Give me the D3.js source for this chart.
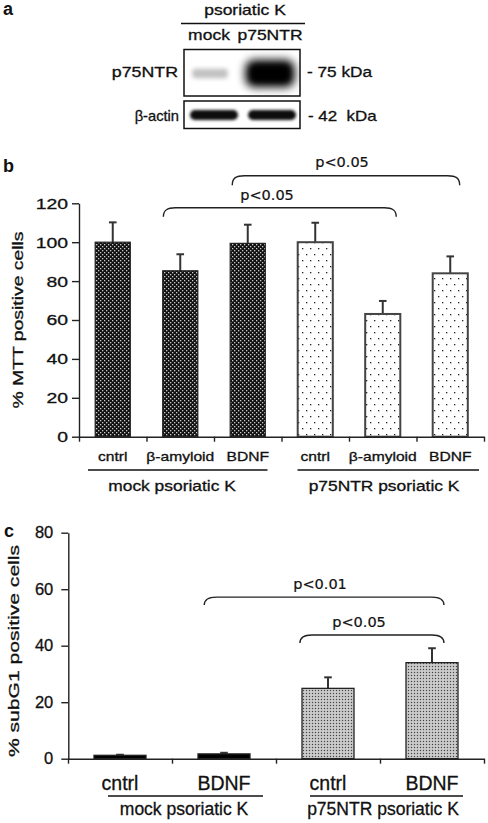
<!DOCTYPE html>
<html><head><meta charset="utf-8">
<script src="https://cdn.jsdelivr.net/npm/d3@7"></script>
<style>body{margin:0;background:#fff} svg{display:block}</style>
</head><body><svg id="fig" width="488" height="823"></svg>
<script>
// ---------- Panel a (western blot) ----------
const blotLanes = ["mock", "p75NTR"];
const p75Intensity = [0.15, 1.0];
const actinIntensity = [1.0, 1.0];
const blotRows = ["p75NTR", "β-actin"];
const blotSizes = ["- 75 kDa", "- 42  kDa"];
// ---------- Panel b (MTT) ----------
const mttCategories = ["cntrl", "β-amyloid", "BDNF", "cntrl", "β-amyloid", "BDNF"];
const mttGroups = ["mock", "mock", "mock", "p75NTR", "p75NTR", "p75NTR"];
const mttValues = [100, 85.3, 99.4, 100, 63.1, 84.0];
const mttErrors = [10.2, 8.5, 9.6, 10.0, 6.7, 8.7];
const mttTicks = [0, 20, 40, 60, 80, 100, 120];
// ---------- Panel c (subG1) ----------
const subG1Categories = ["cntrl", "BDNF", "cntrl", "BDNF"];
const subG1Groups = ["mock", "mock", "p75NTR", "p75NTR"];
const subG1Values = [1.2, 1.7, 24.9, 34.0];
const subG1Errors = [0.2, 0.4, 3.9, 5.1];
const subG1Ticks = [0, 20, 40, 60, 80];
const groupLabels = ["mock psoriatic K", "p75NTR psoriatic K"];

const FONT = "'Liberation Sans', Arial, Helvetica, sans-serif";
const PFONT = "'DejaVu Sans', Verdana, sans-serif";
const svg = d3.select("#fig");
svg.append("rect").attr("width", 488).attr("height", 823).attr("fill", "#fff");

function txt(g, s, x, y, o = {}) {
  const sx = o.sx || 1, rot = o.rot || 0;
  return g.append("text")
    .attr("transform", `translate(${x},${y}) rotate(${rot}) scale(${sx},1)`)
    .attr("text-anchor", o.anchor || "middle")
    .attr("font-size", o.size || 14)
    .attr("font-family", o.family || FONT)
    .attr("font-weight", o.weight || "normal")
    .attr("fill", o.fill || "#111")
    .attr("stroke", o.weight === "bold" ? "none" : "#111")
    .attr("stroke-width", o.sw != null ? o.sw : 0.3)
    .style("white-space", "pre")
    .text(s);
}
function bracket(g, x1, x2, yTop, drop, r) {
  const p = d3.path();
  p.moveTo(x1, yTop + drop);
  p.bezierCurveTo(x1, yTop + 2, x1 + r * 0.35, yTop, x1 + r, yTop);
  p.lineTo(x2 - r, yTop);
  p.bezierCurveTo(x2 - r * 0.35, yTop, x2, yTop + 2, x2, yTop + drop);
  g.append("path").attr("d", p.toString()).attr("fill", "none")
    .attr("stroke", "#222").attr("stroke-width", 1.4);
}

// ---------- defs ----------
const defs = svg.append("defs");
function blur(id, sd) {
  defs.append("filter").attr("id", id).attr("x", "-50%").attr("y", "-50%")
    .attr("width", "200%").attr("height", "200%")
    .append("feGaussianBlur").attr("stdDeviation", sd);
}
blur("blurBig", 4.2); blur("blurMid", 2.6); blur("blurSmall", 1.6); blur("blurFaint", 2.2);

const pDark = defs.append("pattern").attr("id", "pDark").attr("patternUnits", "userSpaceOnUse")
  .attr("width", 4).attr("height", 4);
pDark.append("rect").attr("width", 4).attr("height", 4).attr("fill", "#111");
pDark.append("rect").attr("x", 0).attr("y", 0).attr("width", 1.3).attr("height", 1.3).attr("fill", "#ccc");
pDark.append("rect").attr("x", 2).attr("y", 2).attr("width", 1.3).attr("height", 1.3).attr("fill", "#ccc");

const pLight = defs.append("pattern").attr("id", "pLight").attr("patternUnits", "userSpaceOnUse")
  .attr("width", 8).attr("height", 12);
pLight.append("rect").attr("width", 8).attr("height", 12).attr("fill", "#fff");
pLight.append("rect").attr("x", 2).attr("y", 2).attr("width", 1.3).attr("height", 1.3).attr("fill", "#222");
pLight.append("rect").attr("x", 6).attr("y", 8).attr("width", 1.3).attr("height", 1.3).attr("fill", "#222");

const pGray = defs.append("pattern").attr("id", "pGray").attr("patternUnits", "userSpaceOnUse")
  .attr("width", 3).attr("height", 3);
pGray.append("rect").attr("width", 3).attr("height", 3).attr("fill", "#bdbdbd");
pGray.append("rect").attr("x", 0).attr("y", 0).attr("width", 1).attr("height", 1).attr("fill", "#444");
pGray.append("rect").attr("x", 1.5).attr("y", 1.5).attr("width", 1).attr("height", 1).attr("fill", "#f4f4f4");

// ================= Panel a =================
const ga = svg.append("g");
txt(ga, "a", 3, 15, { anchor: "start", size: 18, weight: "bold" });
const lane = d3.scaleBand().domain(blotLanes).range([184, 300]);
txt(ga, "psoriatic K", 245, 15, { size: 14, sx: 1.25 });
ga.append("line").attr("x1", 181).attr("x2", 305).attr("y1", 23.5).attr("y2", 23.5)
  .attr("stroke", "#111").attr("stroke-width", 1.4);
blotLanes.forEach((l, i) => txt(ga, l, lane(l) + lane.bandwidth() / 2 - (i === 0 ? 4 : 1), 40, { size: 14, sx: 1.25 }));

const boxes = [{ y: 49.5, h: 46.5 }, { y: 101, h: 27.5 }];
defs.append("clipPath").attr("id", "clipB0").append("rect").attr("x", 184).attr("y", boxes[0].y).attr("width", 116).attr("height", boxes[0].h);
defs.append("clipPath").attr("id", "clipB1").append("rect").attr("x", 184).attr("y", boxes[1].y).attr("width", 116).attr("height", boxes[1].h);

const wS = d3.scaleLinear().domain([0, 1]).range([33, 50]);
const hS = d3.scaleLinear().domain([0, 1]).range([6, 28]);
const oS = d3.scaleLinear().domain([0, 1]).range([0.12, 0.95]);
const gb0 = ga.append("g").attr("clip-path", "url(#clipB0)");
blotLanes.forEach((l, i) => {
  const v = p75Intensity[i];
  const cx = lane(l) + lane.bandwidth() / 2 - (i === 0 ? 3 : 1);
  const w = wS(v), h = hS(v);
  gb0.append("rect").attr("x", cx - w / 2).attr("y", 73.5 - h / 2).attr("width", w).attr("height", h)
    .attr("rx", h / 3).attr("fill", "#000").attr("fill-opacity", oS(v))
    .attr("filter", v > 0.5 ? "url(#blurBig)" : "url(#blurFaint)");
  if (v > 0.5) {
    gb0.append("rect").attr("x", cx - w / 2 + 6).attr("y", 73.5 - h / 2 + 6).attr("width", w - 12).attr("height", h - 12)
      .attr("rx", 5).attr("fill", "#000").attr("filter", "url(#blurMid)");
  }
});
const gb1 = ga.append("g").attr("clip-path", "url(#clipB1)");
blotLanes.forEach((l, i) => {
  const v = actinIntensity[i];
  const cx = lane(l) + lane.bandwidth() / 2 + (i === 0 ? 1 : 1);
  gb1.append("rect").attr("x", cx - 24).attr("y", 110).attr("width", 48).attr("height", 10)
    .attr("rx", 5).attr("fill", "#000").attr("fill-opacity", oS(v)).attr("filter", "url(#blurSmall)");
});
boxes.forEach(b => ga.append("rect").attr("x", 184).attr("y", b.y).attr("width", 116).attr("height", b.h)
  .attr("fill", "none").attr("stroke", "#111").attr("stroke-width", 1.5));
txt(ga, blotRows[0], 178, 77, { anchor: "end", size: 14, sx: 1.27 });
txt(ga, blotRows[1], 179, 121, { anchor: "end", size: 14, sx: 1.05 });
txt(ga, blotSizes[0], 307, 77, { anchor: "start", size: 14, sx: 1.23 });
txt(ga, blotSizes[1], 308, 121, { anchor: "start", size: 14, sx: 1.21 });

// ================= Panel b =================
const gbp = svg.append("g");
txt(gbp, "b", 3, 172, { anchor: "start", size: 18, weight: "bold" });
const xb = d3.scaleBand().domain(d3.range(mttValues.length)).range([79, 484]);
const xbL = d3.scaleLinear().domain([0, mttValues.length]).range([79, 484]);
const yb = d3.scaleLinear().domain([0, 120]).range([436.7, 203.3]);
const bwb = xb.bandwidth() * 0.52;

mttValues.forEach((v, i) => {
  const x0 = xb(i) + (xb.bandwidth() - bwb) / 2, xc = xb(i) + xb.bandwidth() / 2;
  gbp.append("line").attr("x1", xc).attr("x2", xc).attr("y1", yb(v)).attr("y2", yb(v + mttErrors[i]))
    .attr("stroke", "#333").attr("stroke-width", 2);
  gbp.append("line").attr("x1", xc - 3.8).attr("x2", xc + 3.8).attr("y1", yb(v + mttErrors[i])).attr("y2", yb(v + mttErrors[i]))
    .attr("stroke", "#333").attr("stroke-width", 2);
  gbp.append("rect").attr("x", x0).attr("y", yb(v)).attr("width", bwb).attr("height", yb(0) - yb(v))
    .attr("fill", mttGroups[i] === "mock" ? "url(#pDark)" : "url(#pLight)")
    .attr("stroke", mttGroups[i] === "mock" ? "#222" : "#444").attr("stroke-width", mttGroups[i] === "mock" ? 1.2 : 2);
});

const yAxB = gbp.append("g").attr("transform", "translate(79,0)")
  .call(d3.axisLeft(yb).tickValues(mttTicks).tickSize(7).tickPadding(4).tickSizeOuter(0));
yAxB.selectAll("text").attr("x", -11 / 1.25).attr("transform", "scale(1.25,1)")
  .attr("font-size", 15.5).attr("font-family", FONT).attr("fill", "#111")
  .attr("stroke", "#111").attr("stroke-width", 0.3);
const xAxB = gbp.append("g").attr("transform", `translate(0,${yb(0)})`)
  .call(d3.axisBottom(xbL).tickValues(d3.range(mttValues.length + 1)).tickFormat("").tickSize(5).tickSizeOuter(0));
[yAxB, xAxB].forEach(a => { a.selectAll("path,line").attr("stroke", "#222").attr("stroke-width", 1.4); });

mttCategories.forEach((c, i) => txt(gbp, c, xb(i) + xb.bandwidth() / 2, 461, { size: 12.5, sx: 1.25 }));
const bwB = xb.bandwidth();
gbp.append("line").attr("x1", xb(0) + 9).attr("x2", xb(2) + bwB - 14).attr("y1", 470).attr("y2", 470).attr("stroke", "#111").attr("stroke-width", 1.4);
gbp.append("line").attr("x1", xb(3) + 16).attr("x2", xb(5) + bwB - 5).attr("y1", 470).attr("y2", 470).attr("stroke", "#111").attr("stroke-width", 1.4);
txt(gbp, groupLabels[0], 172, 491, { size: 14.5, sx: 1.2 });
txt(gbp, groupLabels[1], 384, 491, { size: 14.5, sx: 1.2 });
txt(gbp, "% MTT positive cells", 23, 320, { size: 15, sx: 1.29, rot: -90 });

bracket(gbp, xb(1) + bwB * 0.25, xb(4) + bwB * 0.7, yb(117.7), 9, 12);
bracket(gbp, xb(2) + bwB * 0.27, xb(5) + bwB * 0.64, yb(134.2), 9.5, 12);
txt(gbp, "p<0.05", 267, 200, { size: 14.5, family: PFONT, sw: 0.2 });
txt(gbp, "p<0.05", 342, 167, { size: 14.5, family: PFONT, sw: 0.2 });

// ================= Panel c =================
const gc = svg.append("g");
txt(gc, "c", 4, 537, { anchor: "start", size: 18, weight: "bold" });
const xc = d3.scaleBand().domain(d3.range(subG1Values.length)).range([68, 484]);
const xcL = d3.scaleLinear().domain([0, subG1Values.length]).range([68, 484]);
const yc = d3.scaleLinear().domain([0, 80]).range([758.7, 532.7]);
const bwc = xc.bandwidth() * 0.5;
subG1Values.forEach((v, i) => {
  const x0 = xc(i) + (xc.bandwidth() - bwc) / 2, xm = xc(i) + xc.bandwidth() / 2;
  gc.append("line").attr("x1", xm).attr("x2", xm).attr("y1", yc(v)).attr("y2", yc(v + subG1Errors[i]))
    .attr("stroke", "#333").attr("stroke-width", 2);
  gc.append("line").attr("x1", xm - 3.8).attr("x2", xm + 3.8).attr("y1", yc(v + subG1Errors[i])).attr("y2", yc(v + subG1Errors[i]))
    .attr("stroke", "#333").attr("stroke-width", 2);
  gc.append("rect").attr("x", x0).attr("y", yc(v)).attr("width", bwc).attr("height", yc(0) - yc(v))
    .attr("fill", subG1Groups[i] === "mock" ? "#000" : "url(#pGray)")
    .attr("stroke", "#222").attr("stroke-width", 1.3);
});
const yAxC = gc.append("g").attr("transform", "translate(68.3,0)")
  .call(d3.axisLeft(yc).tickValues(subG1Ticks).tickSize(7).tickPadding(8).tickSizeOuter(0));
yAxC.selectAll("text").attr("font-size", 16.5).attr("font-family", FONT).attr("fill", "#111")
  .attr("stroke", "#111").attr("stroke-width", 0.3);
const xAxC = gc.append("g").attr("transform", `translate(0,${yc(0)})`)
  .call(d3.axisBottom(xcL).tickValues(d3.range(subG1Values.length + 1)).tickFormat("").tickSize(5).tickSizeOuter(0));
[yAxC, xAxC].forEach(a => { a.selectAll("path,line").attr("stroke", "#222").attr("stroke-width", 1.4); });
subG1Categories.forEach((c, i) => txt(gc, c, xc(i) + xc.bandwidth() / 2, 790, { size: 19.5 }));
const bwC = xc.bandwidth();
gc.append("line").attr("x1", xc(0) + 40).attr("x2", xc(1) + bwC - 13).attr("y1", 796).attr("y2", 796).attr("stroke", "#111").attr("stroke-width", 1.4);
gc.append("line").attr("x1", xc(2) + 34).attr("x2", xc(3) + bwC - 21).attr("y1", 796).attr("y2", 796).attr("stroke", "#111").attr("stroke-width", 1.4);
txt(gc, groupLabels[0], 184, 815, { size: 17.5 });
txt(gc, groupLabels[1], 383, 815, { size: 17.5 });
txt(gc, "% subG1 positive cells", 19, 651, { size: 15.5, sx: 1.36, rot: -90 });

bracket(gc, xc(1) + bwC * 0.31, xc(3) + bwC * 0.615, yc(57.2), 8, 12);
bracket(gc, xc(2) + bwC * 0.23, xc(3) + bwC * 0.615, yc(43.8), 8, 12);
txt(gc, "p<0.01", 320, 589, { size: 14.5, family: PFONT, sw: 0.2 });
txt(gc, "p<0.05", 359, 627, { size: 14.5, family: PFONT, sw: 0.2 });
</script></body></html>
